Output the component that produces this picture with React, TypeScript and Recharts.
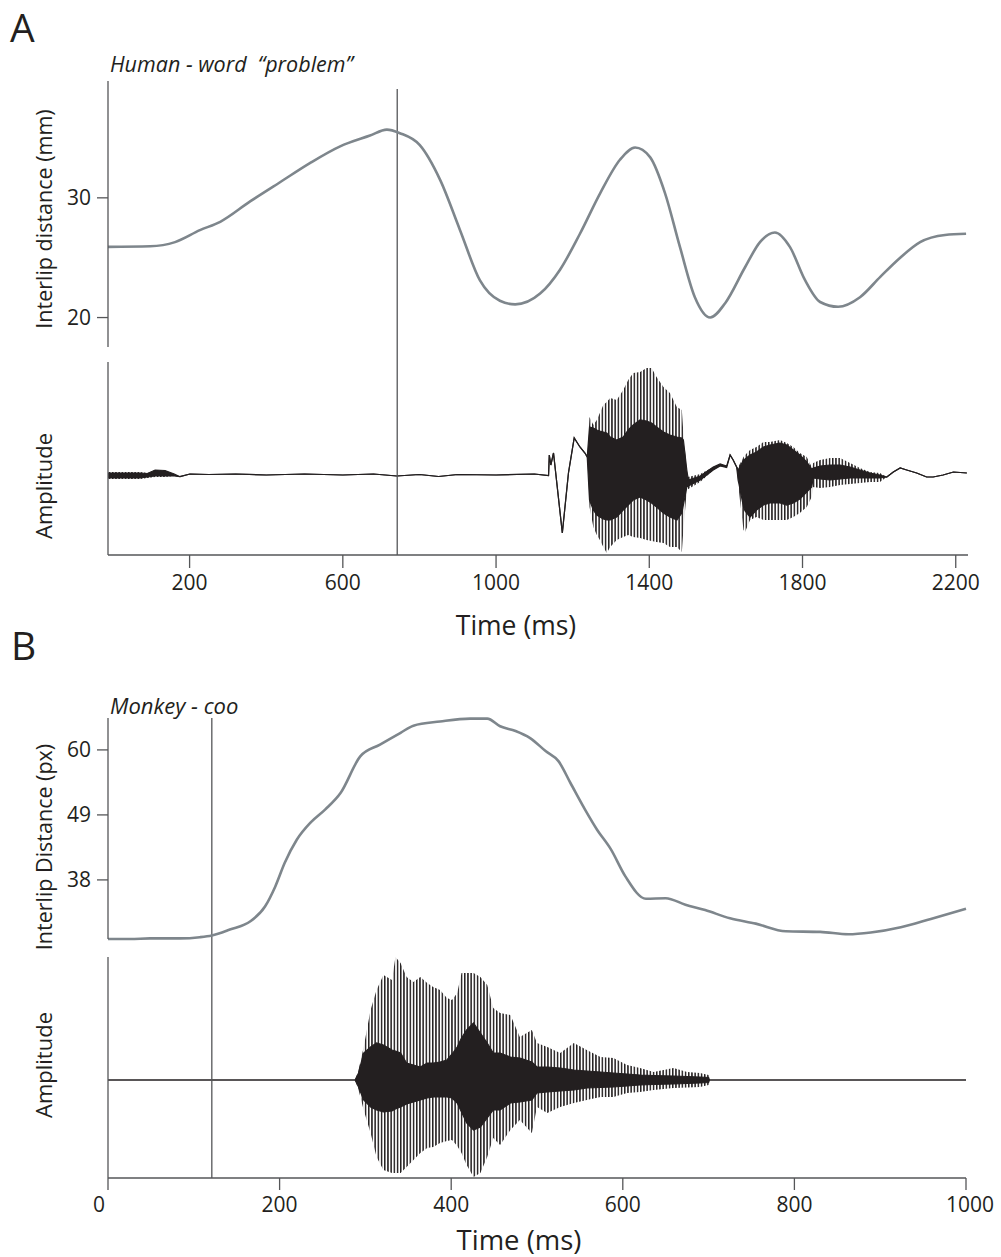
import {
  Area, ComposedChart, Line, LineChart, ReferenceLine, XAxis, YAxis,
} from 'recharts';

const INK = '#231f20';
const AXIS = '#555658';
const LIP = '#7e868c';
const FONT = '"Open Sans", "Noto Sans", sans-serif';

// ---- Panel A: human, word "problem" ----
const HUMAN_TICKS_MS = [200, 600, 1000, 1400, 1800, 2200];
const HUMAN_LIP_TICKS = [20, 30];
const HUMAN_CURSOR_MS = 742;

const HUMAN_LIP_MS = [
  -13, 97, 162, 227, 280, 358, 436, 514, 593, 671, 715, 749, 801, 854, 906,
  958, 1010, 1050, 1115, 1167, 1219, 1272, 1324, 1363, 1402, 1441, 1480, 1519,
  1559, 1598, 1650, 1689, 1728, 1767, 1807, 1846, 1893, 1950, 2003, 2055, 2107,
  2172, 2227,
];
const HUMAN_LIP_MM = [
  25.9, 25.95, 26.3, 27.3, 28.0, 29.7, 31.3, 32.9, 34.3, 35.2, 35.7, 35.4, 34.4,
  31.5, 27.3, 23.1, 21.4, 21.1, 22.0, 24.0, 27.0, 30.4, 33.2, 34.2, 33.4, 30.4,
  25.9, 21.7, 20.0, 21.2, 24.2, 26.3, 27.1, 25.9, 23.1, 21.3, 20.9, 21.7, 23.4,
  25.0, 26.3, 26.9, 27.0,
];

// waveform envelopes: outer spikes and dense core (arbitrary amplitude units)
const HUMAN_WAVE_MS = [
  -13, 71, 90, 110, 136, 160, 175, 201, 250, 320, 400, 500, 600, 680, 741, 800,
  850, 900, 1000, 1100, 1137, 1139, 1143, 1150, 1173, 1189, 1204, 1219, 1232,
  1238, 1244, 1254, 1263, 1271, 1280, 1289, 1298, 1315, 1332, 1345, 1358, 1376,
  1393, 1406, 1419, 1437, 1454, 1472, 1485, 1489, 1498, 1502, 1533, 1567, 1585,
  1602, 1611, 1619, 1628, 1632, 1646, 1650, 1663, 1680, 1698, 1715, 1741, 1759,
  1776, 1793, 1811, 1824, 1828, 1846, 1872, 1898, 1924, 1950, 1976, 2002, 2020,
  2037, 2055, 2072, 2098, 2124, 2141, 2167, 2194, 2229,
];
const HUMAN_WAVE_OUTER_HI = [
  0.03, 0.03, 0.02, 0.05, 0.045, 0.01, -0.017, 0.01, 0.005, 0.01, 0, 0.01, 0,
  0.01, -0.01, 0.005, -0.015, 0.005, 0, 0.01, -0.005, 0.2, 0.1, 0.22, -0.58,
  0.02, 0.37, 0.28, 0.22, 0.18, 0.58, 0.5, 0.55, 0.62, 0.7, 0.73, 0.77, 0.75,
  0.85, 0.95, 1.02, 1.03, 1.07, 1.07, 0.98, 0.88, 0.82, 0.68, 0.65, 0.42, 0.05,
  -0.02, 0.01, 0.08, 0.11, 0.09, 0.2, 0.15, 0.08, 0.08, 0.18, 0.2, 0.25, 0.28,
  0.33, 0.33, 0.35, 0.32, 0.28, 0.22, 0.18, 0.08, 0.12, 0.15, 0.17, 0.17, 0.12,
  0.07, 0.03, 0.02, -0.02, 0.03, 0.07, 0.05, 0.02, -0.02, -0.02, 0, 0.03, 0.02,
];
const HUMAN_WAVE_CORE_HI = [
  0.02, 0.02, 0.015, 0.05, 0.045, 0.01, -0.017, 0.01, 0.005, 0.01, 0, 0.01, 0,
  0.01, -0.01, 0.005, -0.015, 0.005, 0, 0.01, -0.005, 0.2, 0.1, 0.22, -0.58,
  0.02, 0.37, 0.28, 0.22, 0.18, 0.48, 0.47, 0.45, 0.44, 0.43, 0.42, 0.38, 0.35,
  0.38, 0.45, 0.5, 0.55, 0.54, 0.52, 0.48, 0.43, 0.4, 0.38, 0.37, 0.35, 0.05,
  -0.05, -0.01, 0.08, 0.11, 0.09, 0.2, 0.15, 0.08, 0.05, 0.15, 0.16, 0.2, 0.23,
  0.28, 0.3, 0.32, 0.3, 0.25, 0.2, 0.13, 0.06, 0.07, 0.09, 0.1, 0.1, 0.08,
  0.05, 0.02, 0, -0.02, 0.03, 0.07, 0.05, 0.02, -0.02, -0.02, 0, 0.03, 0.02,
];
const HUMAN_WAVE_CORE_LO = [
  -0.03, -0.03, -0.02, -0.01, -0.01, -0.01, -0.017, 0.01, 0.005, 0.01, 0, 0.01,
  0, 0.01, -0.01, 0.005, -0.015, 0.005, 0, 0.01, -0.005, 0.2, 0.1, 0.22, -0.58,
  0.02, 0.37, 0.28, 0.22, 0.18, -0.25, -0.35, -0.4, -0.42, -0.44, -0.45, -0.45,
  -0.42, -0.35, -0.3, -0.25, -0.22, -0.25, -0.28, -0.32, -0.38, -0.42, -0.45,
  -0.38, -0.3, -0.12, -0.11, -0.05, 0.05, 0.09, 0.075, 0.2, 0.15, 0.08, -0.05,
  -0.32, -0.36, -0.42, -0.35, -0.3, -0.28, -0.28, -0.3, -0.28, -0.24, -0.17,
  -0.12, -0.03, -0.04, -0.05, -0.04, -0.03, -0.03, -0.03, -0.03, -0.02, 0.03,
  0.07, 0.05, 0.02, -0.02, -0.02, 0, 0.03, 0.02,
];
const HUMAN_WAVE_OUTER_LO = [
  -0.04, -0.04, -0.03, -0.02, -0.02, -0.01, -0.017, 0.01, 0.005, 0.01, 0, 0.01,
  0, 0.01, -0.01, 0.005, -0.015, 0.005, 0, 0.01, -0.005, 0.2, 0.1, 0.22, -0.58,
  0.02, 0.37, 0.28, 0.22, 0.18, -0.32, -0.52, -0.6, -0.65, -0.72, -0.78, -0.72,
  -0.65, -0.62, -0.6, -0.62, -0.63, -0.65, -0.66, -0.67, -0.68, -0.72, -0.72,
  -0.77, -0.55, -0.15, -0.14, -0.07, 0.05, 0.09, 0.075, 0.2, 0.15, 0.08, -0.1,
  -0.55, -0.57, -0.45, -0.42, -0.45, -0.45, -0.45, -0.45, -0.42, -0.38, -0.32,
  -0.22, -0.12, -0.13, -0.12, -0.1, -0.09, -0.08, -0.07, -0.07, -0.02, 0.03,
  0.07, 0.05, 0.02, -0.02, -0.02, 0, 0.03, 0.02,
];

// ---- Panel B: monkey, coo ----
const MONKEY_TICKS_MS = [0, 200, 400, 600, 800, 1000];
const MONKEY_LIP_TICKS = [38, 49, 60];
const MONKEY_CURSOR_MS = 121;

const MONKEY_LIP_MS = [
  0, 26, 49, 84, 107, 121, 142, 166, 183, 195, 206, 220, 236, 253, 271, 294,
  317, 341, 356, 387, 422, 442, 457, 475, 492, 510, 525, 539, 556, 570, 586,
  603, 627, 650, 673, 696, 725, 755, 790, 830, 863, 889, 924, 959, 1000,
];
const MONKEY_LIP_PX = [
  28.0, 28.0, 28.1, 28.1, 28.3, 28.6, 29.6, 31.0, 33.5, 36.9, 40.9, 44.8, 47.7,
  49.9, 52.7, 58.9, 60.9, 62.9, 64.1, 64.8, 65.3, 65.3, 64.0, 63.2, 62.0, 59.8,
  58.1, 54.4, 49.9, 46.5, 43.2, 38.6, 34.8, 34.9, 33.8, 32.9, 31.5, 30.6, 29.3,
  29.2, 28.8, 29.1, 30.0, 31.4, 33.1,
];

const MONKEY_WAVE_MS = [
  0, 288, 292, 298, 306, 313, 321, 331, 335, 341, 348, 356, 364, 372, 379, 387,
  395, 401, 407, 412, 418, 426, 434, 442, 449, 457, 469, 480, 494, 500, 512,
  527, 543, 558, 574, 589, 605, 620, 636, 659, 675, 690, 700, 701, 1000,
];
const MONKEY_WAVE_OUTER_HI = [
  0, 0, 0.1, 0.33, 0.7, 0.9, 1.05, 1.0, 1.23, 1.17, 1.03, 0.98, 1.03, 0.97,
  0.93, 0.9, 0.82, 0.8, 0.87, 1.07, 1.07, 1.07, 1.03, 0.95, 0.72, 0.67, 0.65,
  0.43, 0.5, 0.37, 0.33, 0.27, 0.37, 0.3, 0.23, 0.22, 0.15, 0.12, 0.08, 0.12,
  0.08, 0.07, 0.05, 0, 0,
];
const MONKEY_WAVE_CORE_HI = [
  0, 0, 0.07, 0.27, 0.33, 0.37, 0.35, 0.3, 0.29, 0.27, 0.17, 0.15, 0.13, 0.17,
  0.17, 0.18, 0.2, 0.26, 0.33, 0.42, 0.5, 0.57, 0.47, 0.37, 0.27, 0.27, 0.23,
  0.22, 0.18, 0.13, 0.13, 0.12, 0.1, 0.09, 0.08, 0.07, 0.06, 0.05, 0.045, 0.04,
  0.035, 0.03, 0.025, 0, 0,
];
const MONKEY_WAVE_CORE_LO = [
  0, 0, -0.07, -0.2, -0.27, -0.3, -0.32, -0.31, -0.29, -0.27, -0.24, -0.22,
  -0.2, -0.18, -0.17, -0.17, -0.17, -0.18, -0.23, -0.32, -0.43, -0.5, -0.47,
  -0.38, -0.3, -0.3, -0.23, -0.22, -0.2, -0.13, -0.12, -0.11, -0.1, -0.08,
  -0.075, -0.07, -0.06, -0.05, -0.045, -0.04, -0.035, -0.03, -0.025, 0, 0,
];
const MONKEY_WAVE_OUTER_LO = [
  0, 0, -0.1, -0.3, -0.53, -0.77, -0.9, -0.93, -0.93, -0.93, -0.87, -0.8,
  -0.73, -0.68, -0.67, -0.63, -0.61, -0.6, -0.66, -0.73, -0.85, -0.97, -0.93,
  -0.77, -0.58, -0.65, -0.5, -0.4, -0.53, -0.27, -0.33, -0.27, -0.23, -0.2,
  -0.17, -0.17, -0.13, -0.12, -0.1, -0.08, -0.075, -0.07, -0.05, 0, 0,
];

const toCurve = (ms: number[], v: number[]) => ms.map((t, i) => ({ t, v: v[i] }));
const toWave = (ms: number[], oh: number[], ih: number[], il: number[], ol: number[]) =>
  ms.map((t, i) => ({ t, oh: oh[i], ih: ih[i], il: il[i], ol: ol[i] }));

const humanLip = toCurve(HUMAN_LIP_MS, HUMAN_LIP_MM);
const humanWave = toWave(HUMAN_WAVE_MS, HUMAN_WAVE_OUTER_HI, HUMAN_WAVE_CORE_HI,
  HUMAN_WAVE_CORE_LO, HUMAN_WAVE_OUTER_LO);
const monkeyLip = toCurve(MONKEY_LIP_MS, MONKEY_LIP_PX);
const monkeyWave = toWave(MONKEY_WAVE_MS, MONKEY_WAVE_OUTER_HI, MONKEY_WAVE_CORE_HI,
  MONKEY_WAVE_CORE_LO, MONKEY_WAVE_OUTER_LO);

const axisLine = { stroke: AXIS, strokeWidth: 1.3 };
const tickText = { fill: INK, fontSize: 21, fontFamily: FONT };

function Txt({ x, y, size, italic, anchor = 'start', children }: {
  x: number; y: number; size: number; italic?: boolean; anchor?: 'start' | 'middle'; children: string;
}) {
  // y is the text baseline
  return (
    <div style={{
      position: 'absolute', left: x, top: y - 0.888 * size, fontSize: size, lineHeight: 1,
      fontStyle: italic ? 'italic' : 'normal', whiteSpace: 'pre',
      transform: anchor === 'middle' ? 'translateX(-50%)' : undefined,
    }}>
      {children}
    </div>
  );
}

function VTxt({ x, cy, size, children }: { x: number; cy: number; size: number; children: string }) {
  // x is the baseline position of the rotated text
  return (
    <div style={{
      position: 'absolute', left: x - 0.388 * size, top: cy, fontSize: size, lineHeight: 1,
      whiteSpace: 'nowrap', transform: 'translate(-50%, -50%) rotate(-90deg)',
    }}>
      {children}
    </div>
  );
}

function MonkeyTick(props: any) {
  const { x, y, payload } = props;
  const dx = payload.value === 0 ? -9 : payload.value === 1000 ? 4 : 0;
  return (
    <text x={x + dx} y={y} dy="0.71em" textAnchor="middle" {...tickText}>
      {payload.value}
    </text>
  );
}

// vertical hatch standing in for the individual pitch-period spikes
function Spikes({ id }: { id: string }) {
  return (
    <defs>
      <pattern id={id} width={3.2} height={8} patternUnits="userSpaceOnUse">
        <rect x={0} y={0} width={1.5} height={8} fill={INK} />
      </pattern>
    </defs>
  );
}

export default function App() {
  return (
    <div style={{
      position: 'absolute', left: 0, top: 0, width: 1001, height: 1257,
      background: '#fff', color: INK, fontFamily: FONT,
    }}>
      {/* A: interlip distance */}
      <div style={{ position: 'absolute', left: 0, top: 0 }}>
        <LineChart width={1001} height={362} data={humanLip}
          margin={{ top: 81, right: 33, bottom: 15, left: 48 }}>
          <XAxis type="number" dataKey="t" domain={[-13, 2232]} hide />
          <YAxis width={60} domain={[17.54, 39.76]} ticks={HUMAN_LIP_TICKS}
            axisLine={axisLine} tickLine={axisLine} tickSize={11} tickMargin={6} tick={tickText} />
          <ReferenceLine ifOverflow="visible" stroke={AXIS} strokeWidth={1.3}
            segment={[{ x: HUMAN_CURSOR_MS, y: 39.1 }, { x: HUMAN_CURSOR_MS, y: 16.2 }]} />
          <Line type="monotone" dataKey="v" stroke={LIP} strokeWidth={2.6} dot={false}
            activeDot={false} isAnimationActive={false} />
        </LineChart>
      </div>

      {/* A: audio waveform */}
      <div style={{ position: 'absolute', left: 0, top: 362 }}>
        <ComposedChart width={1001} height={250} data={humanWave}
          margin={{ top: 0, right: 33, bottom: 17, left: 48 }}>
          <Spikes id="spikesA" />
          <XAxis type="number" dataKey="t" domain={[-13, 2232]} ticks={HUMAN_TICKS_MS}
            height={40} axisLine={axisLine} tickLine={axisLine} tickSize={13} tickMargin={7}
            tick={tickText} />
          <YAxis width={60} domain={[-0.8, 1.13]} ticks={[]} axisLine={axisLine}
            tickLine={false} tick={false} />
          <Area type="linear" dataKey={(d: any) => [d.ol, d.oh]} fill="url(#spikesA)"
            fillOpacity={1} stroke="none" dot={false} activeDot={false} isAnimationActive={false} />
          <Area type="linear" dataKey={(d: any) => [d.il, d.ih]} fill={INK} fillOpacity={1}
            stroke={INK} strokeWidth={1.2} dot={false} activeDot={false} isAnimationActive={false} />
          <ReferenceLine x={HUMAN_CURSOR_MS} stroke={AXIS} strokeWidth={1.3} />
        </ComposedChart>
      </div>

      {/* B: interlip distance */}
      <div style={{ position: 'absolute', left: 0, top: 640 }}>
        <LineChart width={1001} height={317} data={monkeyLip}
          margin={{ top: 78, right: 35, bottom: 18, left: 48 }}>
          <XAxis type="number" dataKey="t" domain={[0, 1000]} hide />
          <YAxis width={60} domain={[28.0, 65.4]} ticks={MONKEY_LIP_TICKS}
            axisLine={axisLine} tickLine={axisLine} tickSize={11} tickMargin={6} tick={tickText} />
          <ReferenceLine ifOverflow="visible" stroke={AXIS} strokeWidth={1.3}
            segment={[{ x: MONKEY_CURSOR_MS, y: 65.4 }, { x: MONKEY_CURSOR_MS, y: 24.9 }]} />
          <Line type="monotone" dataKey="v" stroke={LIP} strokeWidth={2.6} dot={false}
            activeDot={false} isAnimationActive={false} />
        </LineChart>
      </div>

      {/* B: audio waveform */}
      <div style={{ position: 'absolute', left: 0, top: 957 }}>
        <ComposedChart width={1001} height={280} data={monkeyWave}
          margin={{ top: 0, right: 35, bottom: 19, left: 48 }}>
          <Spikes id="spikesB" />
          <XAxis type="number" dataKey="t" domain={[0, 1000]} ticks={MONKEY_TICKS_MS}
            height={40} axisLine={axisLine} tickLine={axisLine} tickSize={12} tickMargin={7}
            tick={<MonkeyTick />} />
          <YAxis width={60} domain={[-0.98, 1.23]} ticks={[0]} axisLine={axisLine}
            tickLine={{ stroke: INK, strokeWidth: 1.2 }} tickSize={12} tick={false} />
          <Area type="linear" dataKey={(d: any) => [d.ol, d.oh]} fill="url(#spikesB)"
            fillOpacity={1} stroke="none" dot={false} activeDot={false} isAnimationActive={false} />
          <Area type="linear" dataKey={(d: any) => [d.il, d.ih]} fill={INK} fillOpacity={1}
            stroke={INK} strokeWidth={1.2} dot={false} activeDot={false} isAnimationActive={false} />
          <ReferenceLine x={MONKEY_CURSOR_MS} stroke={AXIS} strokeWidth={1.3} />
        </ComposedChart>
      </div>

      <Txt x={10} y={42} size={39}>A</Txt>
      <Txt x={110} y={72} size={21.5} italic>Human - word  “problem”</Txt>
      <VTxt x={52} cy={219} size={21.5}>Interlip distance (mm)</VTxt>
      <VTxt x={52} cy={486} size={22}>Amplitude</VTxt>
      <Txt x={516} y={636} size={26.5} anchor="middle">Time (ms)</Txt>

      <Txt x={11} y={660} size={39}>B</Txt>
      <Txt x={110} y={714} size={22} italic>Monkey - coo</Txt>
      <VTxt x={52} cy={847} size={21.5}>Interlip Distance (px)</VTxt>
      <VTxt x={52} cy={1065} size={22}>Amplitude</VTxt>
      <Txt x={519} y={1250} size={27.5} anchor="middle">Time (ms)</Txt>
    </div>
  );
}
